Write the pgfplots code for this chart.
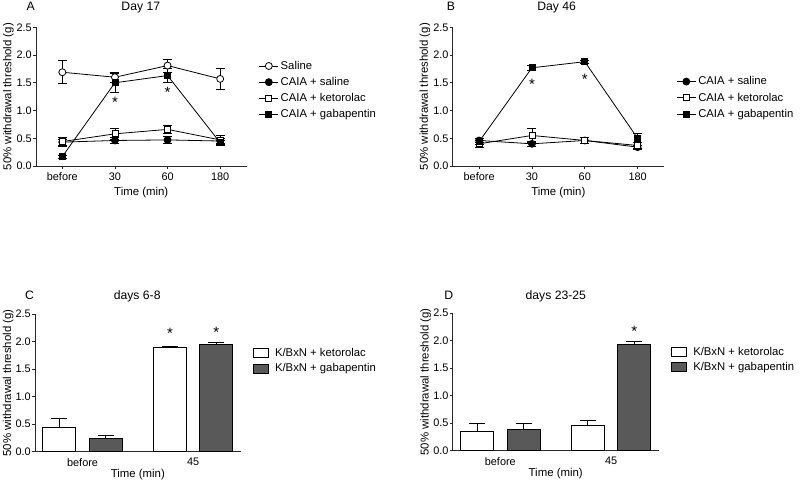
\documentclass[border=0pt]{standalone}
\usepackage{pgfplots}
\pgfplotsset{compat=1.18}
\usepackage{fontspec}
\setmainfont{Liberation Sans}
\definecolor{barfill}{RGB}{89,89,89}
\definecolor{axc}{RGB}{40,40,40}

\tikzset{starnode/.style={anchor=base, yshift=-8.5pt, font=\fontsize{15}{16}\selectfont}}

\pgfplotsset{
  prism/.style={
    scale only axis,
    anchor=south west,
    axis lines*=left,
    axis line style={line width=0.8pt, axc},
    tick align=outside,
    major tick length=3pt,
    tick style={line width=0.8pt, axc},
    ymin=0, ymax=2.5,
    ytick={0,0.5,1,1.5,2,2.5},
    /pgf/number format/assume math mode=true,
    yticklabel style={/pgf/number format/fixed, /pgf/number format/fixed zerofill,
      /pgf/number format/precision=1, font=\fontsize{10.9}{12}\selectfont, inner xsep=1pt},
    xticklabel style={font=\fontsize{10.9}{12}\selectfont},
    ylabel={50\% withdrawal threshold (g)},
    xlabel={Time (min)},
    ylabel style={at={(axis description cs:-0.131,0.5)}, anchor=center, font=\fontsize{11.4}{13}\selectfont},
    legend style={draw=none, fill=none, inner xsep=0pt, font=\fontsize{11.3}{13}\selectfont, anchor=west, legend cell align=left},
  },
  lineaxis/.style={
    prism,
    height=138.7pt,
    xmin=-0.5, xmax=3.5,
    xtick={0,1,2,3}, xticklabels={before,30,60,180},
    xlabel style={at={(axis description cs:0.5,-0.1925)}, anchor=center, font=\fontsize{11.4}{13}\selectfont},
    legend style={row sep=2.5pt},
    every axis plot/.append style={line width=0.8pt, black, mark size=3.5pt,
      error bars/y dir=both, error bars/y explicit,
      error bars/error bar style={line width=0.8pt, black},
      error bars/error mark options={rotate=90, mark size=4.5pt, line width=0.8pt, black}},
    legend image code/.code={\draw[mark repeat=2,mark phase=2,#1] plot coordinates {(0pt,0pt) (9.5pt,0pt) (19pt,0pt)};},
  },
  baraxis/.style={
    prism,
    height=137.5pt,
    ybar,
    xmin=-0.43, xmax=1.43,
    xtick={0,1}, xticklabels={before,45},
    xtick style={draw=none},
    xlabel style={at={(axis description cs:0.5,-0.169)}, anchor=center, font=\fontsize{11.4}{13}\selectfont},
    legend style={row sep=1.8pt},
    every axis plot/.append style={line width=0.8pt, draw=black, bar width=0.298,
      error bars/y dir=plus, error bars/y explicit,
      error bars/error bar style={line width=0.8pt, black},
      error bars/error mark options={rotate=90, mark size=8pt, line width=0.8pt, black}},
    legend image code/.code={\draw[#1, line width=0.8pt] (0pt,-4.5pt) rectangle (15pt,4.5pt); \path (19pt,0pt);},
  },
  openc/.style={mark=*, mark options={fill=white, solid}},
  fillc/.style={mark=*, mark options={fill=black, solid}},
  opens/.style={mark=square*, mark size=3pt, mark options={fill=white, solid}},
  fills/.style={mark=square*, mark size=3pt, mark options={fill=black, solid}},
}

\begin{document}
\begin{tikzpicture}
\useasboundingbox (0pt,0pt) rectangle (800pt,482pt);

% titles
\node[anchor=base, font=\fontsize{12.2}{14}\selectfont] at (30.8pt,471.3pt) {A};
\node[anchor=base, font=\fontsize{12.2}{14}\selectfont] at (140.8pt,471.3pt) {Day 17};
\node[anchor=base, font=\fontsize{12.2}{14}\selectfont] at (451pt,471.3pt) {B};
\node[anchor=base, font=\fontsize{12.2}{14}\selectfont] at (556.7pt,471.3pt) {Day 46};
\node[anchor=base, font=\fontsize{12.2}{14}\selectfont] at (29.5pt,182.5pt) {C};
\node[anchor=base, font=\fontsize{12.2}{14}\selectfont] at (137.2pt,182.5pt) {days 6-8};
\node[anchor=base, font=\fontsize{12.2}{14}\selectfont] at (448.8pt,182.5pt) {D};
\node[anchor=base, font=\fontsize{12.2}{14}\selectfont] at (555.8pt,182.5pt) {days 23-25};

% ---------------- A ----------------
\begin{axis}[lineaxis, at={(36pt,316pt)}, width=210.5pt,
  legend style={at={(axis description cs:1.058,0.546)}}]
\addplot[openc] table[x=x,y=y,y error=e] {
x y e
0 1.69 0.21
1 1.60 0.09
2 1.81 0.12
3 1.57 0.19
};
\addlegendentry{Saline}
\addplot[fillc] table[x=x,y=y,y error=e] {
x y e
0 0.43 0.05
1 0.46 0.06
2 0.47 0.06
3 0.45 0.05
};
\addlegendentry{CAIA + saline}
\addplot[opens] table[x=x,y=y,y error=e] {
x y e
0 0.44 0.08
1 0.58 0.10
2 0.66 0.08
3 0.47 0.08
};
\addlegendentry{CAIA + ketorolac}
\addplot[fills] table[x=x,y=y,y error=e] {
x y e
0 0.17 0.03
1 1.50 0.17
2 1.63 0.13
3 0.42 0.05
};
\addlegendentry{CAIA + gabapentin}
\node[starnode] at (axis cs:1,1.20) {*};
\node[starnode] at (axis cs:2,1.38) {*};
\end{axis}

% ---------------- B ----------------
\begin{axis}[lineaxis, at={(452.7pt,316pt)}, width=211.3pt,
  legend style={at={(axis description cs:1.058,0.492)}}]
\addplot[fillc] table[x=x,y=y,y error=e] {
x y e
0 0.46 0.04
1 0.40 0.05
2 0.46 0.05
3 0.34 0.04
};
\addlegendentry{CAIA + saline}
\addplot[opens] table[x=x,y=y,y error=e] {
x y e
0 0.40 0.06
1 0.55 0.12
2 0.46 0.06
3 0.37 0.05
};
\addlegendentry{CAIA + ketorolac}
\addplot[fills] table[x=x,y=y,y error=e] {
x y e
0 0.44 0.05
1 1.77 0.04
2 1.88 0.03
3 0.50 0.08
};
\addlegendentry{CAIA + gabapentin}
\node[starnode] at (axis cs:1,1.54) {*};
\node[starnode] at (axis cs:2,1.63) {*};
\end{axis}

% ---------------- C ----------------
\begin{axis}[baraxis, at={(35pt,30.3pt)}, width=205.7pt,
  legend style={at={(axis description cs:1.06,0.662)}}]
\addplot[fill=white, bar shift=-0.21] table[x=x,y=y,y error=e] {
x y e
0 0.435 0.175
1 1.89 0.03
};
\addlegendentry{K/BxN + ketorolac}
\addplot[fill=barfill, bar shift=0.21] table[x=x,y=y,y error=e] {
x y e
0 0.24 0.06
1 1.95 0.04
};
\addlegendentry{K/BxN + gabapentin}
\node[starnode] at (axis cs:0.79,2.22) {*};
\node[starnode] at (axis cs:1.21,2.24) {*};
\end{axis}

% ---------------- D ----------------
\begin{axis}[baraxis, at={(452.7pt,31.3pt)}, width=206pt,
  legend style={at={(axis description cs:1.061,0.664)}}]
\addplot[fill=white, bar shift=-0.21] table[x=x,y=y,y error=e] {
x y e
0 0.345 0.145
1 0.46 0.10
};
\addlegendentry{K/BxN + ketorolac}
\addplot[fill=barfill, bar shift=0.21] table[x=x,y=y,y error=e] {
x y e
0 0.39 0.10
1 1.93 0.06
};
\addlegendentry{K/BxN + gabapentin}
\node[starnode] at (axis cs:1.21,2.24) {*};
\end{axis}
\end{tikzpicture}
\end{document}
